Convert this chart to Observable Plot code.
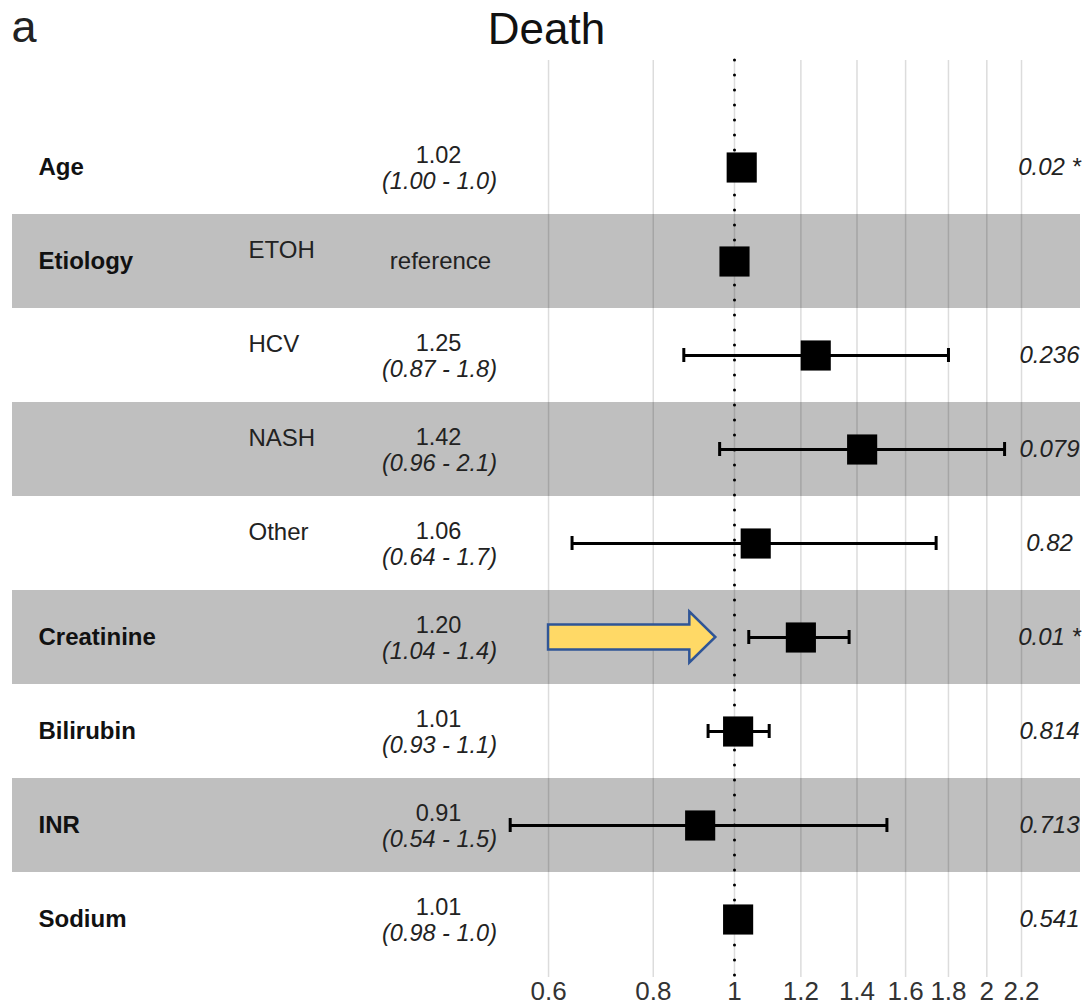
<!DOCTYPE html>
<html>
<head>
<meta charset="utf-8">
<script src="https://cdn.jsdelivr.net/npm/d3@7"></script>
<script src="https://cdn.jsdelivr.net/npm/@observablehq/plot@0.6"></script>
<style>
  html, body { margin: 0; padding: 0; background: #fff; }
  #chart { width: 1089px; height: 1005px; }
</style>
</head>
<body>
<div id="chart"></div>
<script>
// ---- data ----
const rows = ["Age", "ETOH", "HCV", "NASH", "Other", "Creatinine", "Bilirubin", "INR", "Sodium"];
const variables = ["Age", "Etiology", "", "", "", "Creatinine", "Bilirubin", "INR", "Sodium"];
const levels = ["", "ETOH", "HCV", "NASH", "Other", "", "", "", ""];
const estimates = [1.02, 1.00, 1.25, 1.42, 1.06, 1.20, 1.01, 0.91, 1.01];
const lowers = [1.00, null, 0.87, 0.96, 0.64, 1.04, 0.93, 0.54, 0.98];
const uppers = [1.04, null, 1.80, 2.10, 1.74, 1.37, 1.10, 1.52, 1.04];
const estLabels = ["1.02", "reference", "1.25", "1.42", "1.06", "1.20", "1.01", "0.91", "1.01"];
const ciLabels = ["(1.00 - 1.0)", "", "(0.87 - 1.8)", "(0.96 - 2.1)", "(0.64 - 1.7)", "(1.04 - 1.4)", "(0.93 - 1.1)", "(0.54 - 1.5)", "(0.98 - 1.0)"];
const pLabels = ["0.02 *", "", "0.236", "0.079", "0.82", "0.01 *", "0.814", "0.713", "0.541"];
const shadedRows = ["ETOH", "NASH", "Creatinine", "INR"];
const xTicks = [0.6, 0.8, 1, 1.2, 1.4, 1.6, 1.8, 2, 2.2];
const referenceValue = [1];
const titleText = ["Death"];
const panelLabel = ["a"];
const arrowAnnotation = {row: "Creatinine", from: 0.6, to: 0.95};

// ---- table ----
const table = rows.map((id, i) => ({
  id, variable: variables[i], level: levels[i], est: estimates[i],
  lo: lowers[i], hi: uppers[i], estLabel: estLabels[i], ci: ciLabels[i], p: pLabels[i]
}));
const withCI = table.filter(d => d.lo != null);
const shaded = table.filter(d => shadedRows.includes(d.id));
const xDomain = [0.1376, 2.587];

const font = "Liberation Sans, Arial, Helvetica, sans-serif";

const plot = Plot.plot({
  width: 1089,
  height: 1005,
  marginTop: 60,
  marginBottom: 28,
  marginLeft: 12,
  marginRight: 9,
  style: {fontFamily: font, fontSize: "26px", color: "#333", background: "#fff"},
  x: {type: "log", domain: xDomain, ticks: xTicks, tickFormat: d => String(d), tickSize: 0, tickPadding: 4, label: null},
  y: {domain: rows, range: [116, 969], padding: 0, axis: null},
  marks: [
    Plot.ruleX(xTicks, {stroke: "#dcdcdc", strokeWidth: 1.5}),
    Plot.barX(shaded, {y: "id", x1: () => xDomain[0], x2: () => xDomain[1], fill: "black", fillOpacity: 0.25}),
    Plot.ruleX(referenceValue, {stroke: "black", strokeWidth: 3, strokeDasharray: "0 15", strokeLinecap: "round"}),
    Plot.ruleY(withCI, {y: "id", x1: "lo", x2: "hi", stroke: "black", strokeWidth: 3}),
    Plot.tickX(withCI, {x: "lo", y: "id", insetTop: 40, insetBottom: 40, stroke: "black", strokeWidth: 3}),
    Plot.tickX(withCI, {x: "hi", y: "id", insetTop: 40, insetBottom: 40, stroke: "black", strokeWidth: 3}),
    Plot.dot(table, {x: "est", y: "id", symbol: "square", r: 17, fill: "black", stroke: null}),
    // variable names
    Plot.text(table.filter(d => d.variable), {y: "id", text: "variable", frameAnchor: "left", textAnchor: "start", dx: 26, fontWeight: "bold", fontSize: 24, fill: "#111"}),
    // levels
    Plot.text(table.filter(d => d.level), {y: "id", text: "level", frameAnchor: "left", textAnchor: "start", dx: 236, dy: -11, fontSize: 24, fill: "#222"}),
    // estimates
    Plot.text(table.filter(d => d.ci), {y: "id", text: "estLabel", frameAnchor: "left", textAnchor: "middle", dx: 426, dy: -12.5, fontSize: 23.5, fill: "#222"}),
    Plot.text(table.filter(d => !d.ci), {y: "id", text: "estLabel", frameAnchor: "left", textAnchor: "middle", dx: 428, dy: 0, fontSize: 24, fill: "#222"}),
    Plot.text(table.filter(d => d.ci), {y: "id", text: "ci", frameAnchor: "left", textAnchor: "middle", dx: 427, dy: 13.5, fontSize: 23.5, fontStyle: "italic", fill: "#222"}),
    // p values
    Plot.text(table.filter(d => d.p), {y: "id", text: "p", frameAnchor: "right", textAnchor: "middle", dx: -31, fontSize: 24, fontStyle: "italic", fill: "#222"}),
    // title and panel label
    Plot.text(titleText, {text: d => d, frameAnchor: "top", textAnchor: "middle", lineAnchor: "bottom", dy: -17, fontSize: 44, fill: "#111"}),
    Plot.text(panelLabel, {text: d => d, frameAnchor: "top-left", textAnchor: "start", lineAnchor: "bottom", dx: -1, dy: -19, fontSize: 45, fill: "#222"})
  ]
});

// yellow block arrow annotation, positioned through the plot's scales
(function addArrow() {
  const xs = plot.scale("x"), ys = plot.scale("y");
  const yc = ys.apply(arrowAnnotation.row) + ys.bandwidth / 2;
  const x0 = xs.apply(arrowAnnotation.from), x1 = xs.apply(arrowAnnotation.to);
  const sh = 12.5, hh = 25.5, hl = 26;
  const path = d3.path();
  path.moveTo(x0, yc - sh);
  path.lineTo(x1 - hl, yc - sh);
  path.lineTo(x1 - hl, yc - hh);
  path.lineTo(x1, yc);
  path.lineTo(x1 - hl, yc + hh);
  path.lineTo(x1 - hl, yc + sh);
  path.lineTo(x0, yc + sh);
  path.closePath();
  d3.select(plot).append("path")
    .attr("d", path.toString())
    .attr("fill", "#FFD966")
    .attr("stroke", "#2F5597")
    .attr("stroke-width", 2.5)
    .attr("stroke-linejoin", "miter");
})();

document.getElementById("chart").appendChild(plot);
</script>
</body>
</html>
